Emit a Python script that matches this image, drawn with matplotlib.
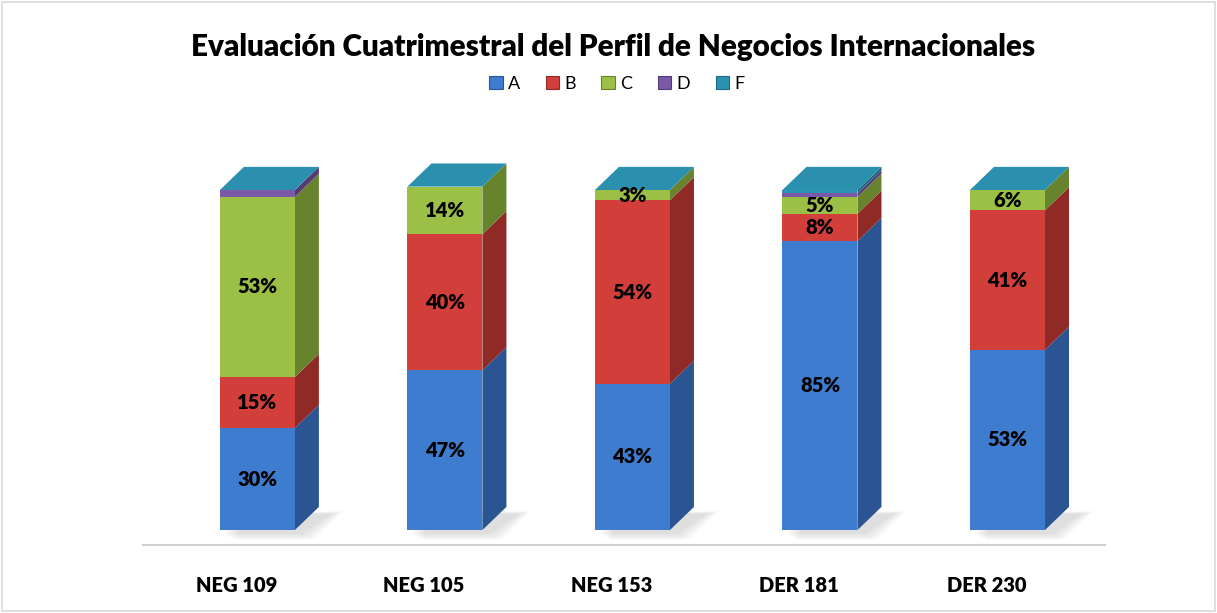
import numpy as np
import matplotlib.pyplot as plt
from matplotlib.patches import Polygon, Rectangle

# Datos (porcentajes)
grupos = ['NEG 109', 'NEG 105', 'NEG 153', 'DER 181', 'DER 230']
series = ['A', 'B', 'C', 'D', 'F']
A = [30, 47, 43, 85, 53]
B = [15, 40, 54, 8, 41]
C = [53, 14, 3, 5, 6]
D = [2, 0, 0, 1, 0]
F = [0, 0, 0, 1, 0]
etiquetas = {'A': ['30%', '47%', '43%', '85%', '53%'],
             'B': ['15%', '40%', '54%', '8%', '41%'],
             'C': ['53%', '14%', '3%', '5%', '6%']}

frente = {'A': '#3d7ccf', 'B': '#d23f3b', 'C': '#9cbf45', 'D': '#7b58a8', 'F': '#2b93b2'}
lado = {'A': '#2a5592', 'B': '#8f2a27', 'C': '#67832d', 'D': '#543c77', 'F': '#1d6a80'}
techo = '#2b8fae'

plt.rcParams['font.family'] = ['Lato', 'DejaVu Sans']

fig = plt.figure(figsize=(12.17, 6.13), dpi=100)
fig.patches.append(Rectangle((0.002, 0.003), 0.996, 0.994, transform=fig.transFigure,
                             fill=False, edgecolor='#d9d9d9', linewidth=1.2))
ax = fig.add_axes([143 / 1217, 68 / 613, 962 / 1217, 406 / 613])
ax.set_xlim(-0.61, 4.52)
ax.set_ylim(-4.4, 115)

w = 0.4      # ancho del frente
dx = 0.128   # profundidad en x
dy = 6.8     # profundidad en y

datos = {'A': A, 'B': B, 'C': C, 'D': D, 'F': F}
x = np.arange(len(grupos))

for i in x:
    # sombra en el piso
    for k in range(5):
        s = 0.015 * k
        ax.add_patch(Polygon([(i - w / 2 + 0.02 + s, -1.2 - k * 0.4), (i + w / 2 + 0.04 + s, -1.2 - k * 0.4),
                              (i + w / 2 + dx + 0.07 + s, dy - 2 + k * 0.2), (i - w / 2 + dx, dy - 2)],
                             closed=True, facecolor='#808080', alpha=0.05, edgecolor='none', zorder=1))
    base = 0
    for s in series:
        v = datos[s][i]
        if v > 0:
            ax.bar(i, v, width=w, bottom=base, color=frente[s], zorder=3)
            ax.add_patch(Polygon([(i + w / 2, base), (i + w / 2 + dx, base + dy),
                                  (i + w / 2 + dx, base + v + dy), (i + w / 2, base + v)],
                                 closed=True, facecolor=lado[s], edgecolor='none', zorder=2))
            if s in etiquetas:
                ax.text(i, base + v / 2, etiquetas[s][i], ha='center', va='center',
                        fontsize=14.5, fontweight='heavy', color='black', zorder=5)
        base += v
    ax.add_patch(Polygon([(i - w / 2, base), (i + w / 2, base),
                          (i + w / 2 + dx, base + dy), (i - w / 2 + dx, base + dy)],
                         closed=True, facecolor=techo, edgecolor='none', zorder=4))

for sp in ['top', 'right', 'left']:
    ax.spines[sp].set_visible(False)
ax.spines['bottom'].set_color('#d0d0d0')
ax.spines['bottom'].set_linewidth(1.5)
ax.set_yticks([])
ax.set_xticks(x - 0.112)
ax.set_xticklabels(grupos, fontsize=14.5, fontweight='heavy')
ax.tick_params(axis='x', length=0, pad=22)

handles = [Rectangle((0, 0), 1, 1, facecolor=frente[s], edgecolor=lado[s], linewidth=0.8) for s in series]
fig.legend(handles, series, loc='center', bbox_to_anchor=(617 / 1217, 1 - 84 / 613), ncol=5,
           frameon=False, fontsize=13, handlelength=0.75, handleheight=0.75,
           handletextpad=0.3, columnspacing=1.4)

fig.text(613 / 1217, 1 - 47 / 613, 'Evaluación Cuatrimestral del Perfil de Negocios Internacionales',
         ha='center', va='center', fontsize=21.3, fontweight='heavy')

fig.savefig('out.png', dpi=100)
